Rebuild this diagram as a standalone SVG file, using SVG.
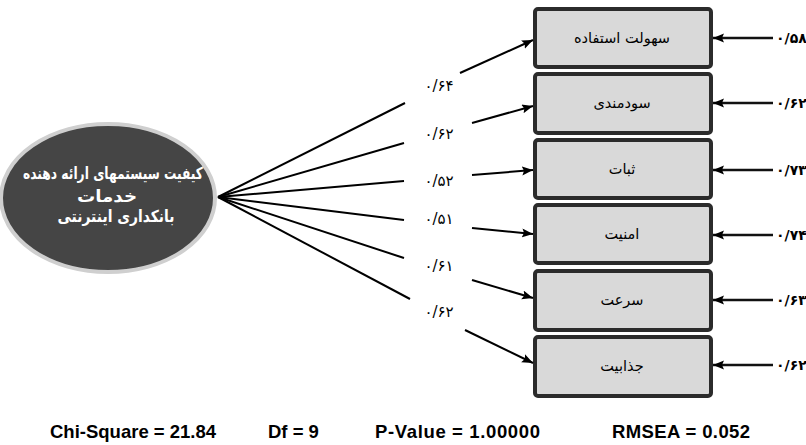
<svg xmlns="http://www.w3.org/2000/svg" width="806" height="445" viewBox="0 0 806 445">
<style>
.box{fill:#d9d9d9;stroke:#2b2b2b;stroke-width:4}
.bt{font-family:"DejaVu Sans",sans-serif;font-size:14.5px;fill:#000;text-anchor:middle}
.ct{font-family:"DejaVu Sans",sans-serif;font-size:16.5px;font-weight:bold;fill:#fff;text-anchor:middle}
.lbl{font-family:"DejaVu Sans",sans-serif;font-size:15px;fill:#000;text-anchor:middle}
.rl{font-family:"DejaVu Sans",sans-serif;font-size:14px;font-weight:bold;fill:#000}
.ln{stroke:#000;stroke-width:2;fill:none}
.rln{stroke:#111;stroke-width:2.5;fill:none}
.ft{font-family:"Liberation Sans",Arial,sans-serif;font-size:18.5px;font-weight:bold;fill:#000}
</style>
<defs>
<marker id="ah" markerUnits="userSpaceOnUse" markerWidth="12" markerHeight="10" refX="11" refY="4.5" orient="auto">
<path d="M0,0 L11,4.5 L0,9 L2,4.5 z" fill="#000"/>
</marker>
</defs>
<rect width="806" height="445" fill="#fff"/>

<g id="latent">
<ellipse cx="108" cy="198" rx="107" ry="74" fill="#454545" stroke="#cfcfcf" stroke-width="4"/>
<text class="ct" x="113" y="179" textLength="180" lengthAdjust="spacingAndGlyphs">کیفیت سیستمهای ارائه دهنده</text>
<text class="ct" x="107" y="202" textLength="60" lengthAdjust="spacingAndGlyphs">خدمات</text>
<text class="ct" x="116" y="222" textLength="117" lengthAdjust="spacingAndGlyphs">بانکداری اینترنتی</text>
</g>

<g id="box1"><rect class="box" x="535" y="9" width="176" height="58" rx="3"/><text class="bt" x="622" y="43">سهولت استفاده</text></g>
<g id="box2"><rect class="box" x="535" y="74" width="176" height="59" rx="3"/><text class="bt" x="622" y="108">سودمندی</text></g>
<g id="box3"><rect class="box" x="535" y="140" width="176" height="58" rx="3"/><text class="bt" x="622" y="174">ثبات</text></g>
<g id="box4"><rect class="box" x="535" y="205" width="176" height="58" rx="3"/><text class="bt" x="622" y="239">امنیت</text></g>
<g id="box5"><rect class="box" x="535" y="271" width="176" height="59" rx="3"/><text class="bt" x="622" y="305">سرعت</text></g>
<g id="box6"><rect class="box" x="535" y="337" width="176" height="59" rx="3"/><text class="bt" x="622" y="371">جذابیت</text></g>

<g id="connectors">
<path class="ln" d="M218,197 L405,103"/>
<path class="ln" d="M460,73 L533,40" marker-end="url(#ah)"/>
<path class="ln" d="M218,197 L404,143"/>
<path class="ln" d="M472,123 L533,106" marker-end="url(#ah)"/>
<path class="ln" d="M218,197 L404,181"/>
<path class="ln" d="M472,175 L533,170" marker-end="url(#ah)"/>
<path class="ln" d="M218,197 L404,220"/>
<path class="ln" d="M472,228 L533,234" marker-end="url(#ah)"/>
<path class="ln" d="M218,197 L404,258"/>
<path class="ln" d="M472,280 L533,298" marker-end="url(#ah)"/>
<path class="ln" d="M218,197 L410,299"/>
<path class="ln" d="M465,330 L533,363" marker-end="url(#ah)"/>

<path class="rln" d="M773,38 L713,38" marker-end="url(#ah)"/>
<path class="rln" d="M773,103 L713,103" marker-end="url(#ah)"/>
<path class="rln" d="M773,170 L713,170" marker-end="url(#ah)"/>
<path class="rln" d="M773,235 L713,235" marker-end="url(#ah)"/>
<path class="rln" d="M773,300 L713,300" marker-end="url(#ah)"/>
<path class="rln" d="M773,365 L713,365" marker-end="url(#ah)"/>
</g>

<g id="loadings">
<text class="lbl" x="439" y="91">۰/۶۴</text>
<text class="lbl" x="439" y="139">۰/۶۲</text>
<text class="lbl" x="439" y="186">۰/۵۲</text>
<text class="lbl" x="439" y="224">۰/۵۱</text>
<text class="lbl" x="439" y="271">۰/۶۱</text>
<text class="lbl" x="439" y="317">۰/۶۲</text>
</g>

<g id="errors">
<text class="rl" x="776" y="43">۰/۵۸</text>
<text class="rl" x="776" y="108">۰/۶۲</text>
<text class="rl" x="776" y="175">۰/۷۳</text>
<text class="rl" x="776" y="240">۰/۷۴</text>
<text class="rl" x="776" y="305">۰/۶۳</text>
<text class="rl" x="776" y="370">۰/۶۲</text>
</g>

<g id="fit">
<text class="ft" x="50" y="438">Chi-Square = 21.84</text>
<text class="ft" x="268" y="438">Df = 9</text>
<text class="ft" x="375" y="438" textLength="165" lengthAdjust="spacing">P-Value = 1.00000</text>
<text class="ft" x="612" y="438" textLength="138" lengthAdjust="spacing">RMSEA = 0.052</text>
</g>
</svg>
